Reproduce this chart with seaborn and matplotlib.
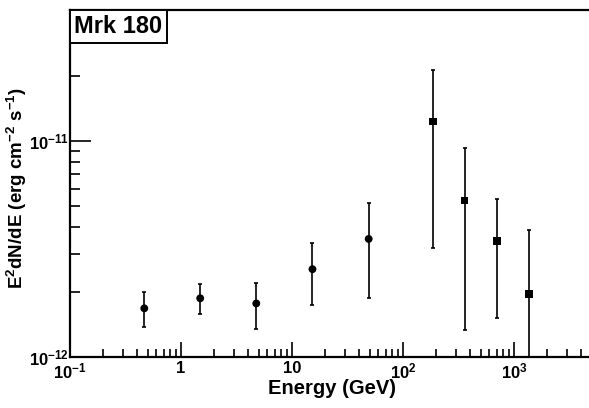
import numpy as np
import pandas as pd
import matplotlib
matplotlib.use("Agg")
import matplotlib.pyplot as plt
import matplotlib.ticker as mticker
from matplotlib.patches import Rectangle
import seaborn as sns

# data
energy = [0.467, 1.49, 4.77, 15.3, 49.1, 186, 359, 698, 1355]
flux = [1.68e-12, 1.87e-12, 1.77e-12, 2.55e-12, 3.52e-12, 1.23e-11, 5.30e-12, 3.43e-12, 1.96e-12]
flux_hi = [1.99e-12, 2.17e-12, 2.19e-12, 3.36e-12, 5.16e-12, 2.13e-11, 9.25e-12, 5.37e-12, 3.88e-12]
flux_lo = [1.37e-12, 1.58e-12, 1.35e-12, 1.75e-12, 1.88e-12, 3.21e-12, 1.33e-12, 1.51e-12, 5.0e-13]
group = ["LAT", "LAT", "LAT", "LAT", "LAT", "VHE", "VHE", "VHE", "VHE"]

df = pd.DataFrame({"E": energy, "F": flux, "hi": flux_hi, "lo": flux_lo, "g": group})

sns.set_theme(style="white")
plt.rcParams["font.family"] = ["Liberation Sans", "DejaVu Sans"]
plt.rcParams["font.weight"] = "bold"
plt.rcParams["text.color"] = "black"
plt.rcParams["axes.labelcolor"] = "black"
plt.rcParams["xtick.color"] = "black"
plt.rcParams["ytick.color"] = "black"
plt.rcParams["mathtext.fontset"] = "custom"
plt.rcParams["mathtext.rm"] = "Liberation Sans:bold"
plt.rcParams["mathtext.it"] = "Liberation Sans:bold"
plt.rcParams["mathtext.bf"] = "Liberation Sans:bold"
plt.rcParams["mathtext.default"] = "rm"

fig = plt.figure(figsize=(5.89, 4.08), dpi=100)
ax = fig.add_axes([70 / 589, 51 / 408, 519 / 589, 347 / 408])

ax.set_xscale("log")
ax.set_yscale("log")

ax.errorbar(df["E"], df["F"],
            yerr=[df["F"] - df["lo"], df["hi"] - df["F"]],
            fmt="none", ecolor="black", elinewidth=1.2, capsize=1.5, capthick=1.2, zorder=2)
sns.scatterplot(data=df, x="E", y="F", style="g", markers={"LAT": "o", "VHE": "s"},
                color="black", s=32, edgecolor="black", linewidth=0, legend=False, ax=ax, zorder=3)

ax.set_xlim(0.1, 4745)
ax.set_ylim(1e-12, 4.04e-11)

def xfmt(v, pos):
    e = int(round(np.log10(v)))
    if e == 0:
        return "1"
    if e == 1:
        return "10"
    return r"10$^{\mathregular{%s}}$" % str(e).replace("-", "-")

def yfmt(v, pos):
    e = int(round(np.log10(v)))
    return r"10$^{\mathregular{%d}}$" % e

ax.xaxis.set_major_locator(mticker.LogLocator(base=10, numticks=20))
ax.xaxis.set_minor_locator(mticker.LogLocator(base=10, subs=np.arange(2, 10), numticks=20))
ax.xaxis.set_major_formatter(mticker.FuncFormatter(xfmt))
ax.xaxis.set_minor_formatter(mticker.NullFormatter())
ax.yaxis.set_major_locator(mticker.LogLocator(base=10, numticks=20))
ax.yaxis.set_minor_locator(mticker.LogLocator(base=10, subs=np.arange(2, 10), numticks=20))
ax.yaxis.set_major_formatter(mticker.FuncFormatter(yfmt))
ax.yaxis.set_minor_formatter(mticker.NullFormatter())

ax.tick_params(axis="x", which="major", direction="in", length=11, width=1.2, labelsize=12, pad=3)
ax.tick_params(axis="x", which="minor", direction="in", length=5.5, width=1.2)
ax.tick_params(axis="y", which="major", direction="in", length=15, width=1.2, labelsize=12, pad=1)
ax.tick_params(axis="y", which="minor", direction="in", length=7.5, width=1.2)
ax.tick_params(bottom=True, left=True, top=False, right=False, which="both")

for s in ["left", "bottom", "top"]:
    ax.spines[s].set_visible(True)
    ax.spines[s].set_color("black")
    ax.spines[s].set_linewidth(1.6)
ax.spines["right"].set_visible(False)

ax.set_xlabel("Energy (GeV)", fontsize=14.5, fontweight="bold")
ax.xaxis.set_label_coords((332 - 70) / 519, -(388 - 357) / 347)
ax.set_ylabel(r"E$^{2}$dN/dE (erg cm$^{-2}$ s$^{-1}$)", fontsize=13.5, fontweight="bold")
ax.yaxis.set_label_coords(-(70 - 17) / 519, (357 - 188) / 347)
ax.yaxis.label.set_va("center")
ax.xaxis.label.set_va("center")

# title box in the top-left corner
bw, bh = 97 / 519, 33 / 347
ax.add_patch(Rectangle((0, 1 - bh), bw, bh, transform=ax.transAxes, facecolor="white",
                       edgecolor="black", linewidth=1.4, zorder=5, clip_on=False))
ax.text(bw / 2, 1 - bh / 2, "Mrk 180", transform=ax.transAxes, ha="center", va="center",
        fontsize=17, fontweight="bold", color="black", zorder=6)

fig.savefig("out.png", dpi=100)
